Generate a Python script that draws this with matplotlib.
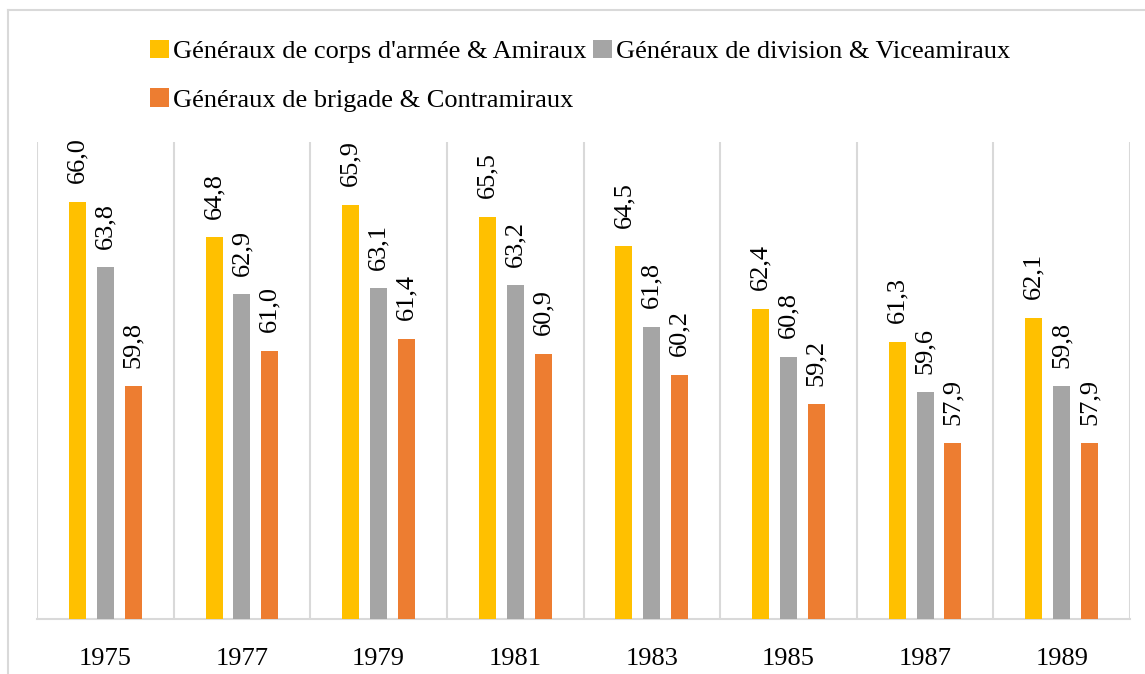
import matplotlib
matplotlib.use("Agg")
import matplotlib.pyplot as plt
from matplotlib.lines import Line2D
import numpy as np

years = ["1975", "1977", "1979", "1981", "1983", "1985", "1987", "1989"]
series_names = ["Généraux de corps d'armée & Amiraux",
                "Généraux de division & Viceamiraux",
                "Généraux de brigade & Contramiraux"]
corps = [66.0, 64.8, 65.9, 65.5, 64.5, 62.4, 61.3, 62.1]
division = [63.8, 62.9, 63.1, 63.2, 61.8, 60.8, 59.6, 59.8]
brigade = [59.8, 61.0, 61.4, 60.9, 60.2, 59.2, 57.9, 57.9]
colors = ["#FFC000", "#A5A5A5", "#ED7D31"]

plt.rcParams['font.family'] = ['Liberation Serif', 'DejaVu Serif']
FS = 19

W, H = 1145, 674
fig = plt.figure(figsize=(W / 100, H / 100), dpi=100)

# outer border (left and top visible)
fig.add_artist(Line2D([8 / W, 8 / W], [0, 1 - 10 / H], color="#d9d9d9", lw=1.5, transform=fig.transFigure))
fig.add_artist(Line2D([8 / W, 1], [1 - 10 / H, 1 - 10 / H], color="#d9d9d9", lw=1.5, transform=fig.transFigure))

ax = fig.add_axes([37 / W, 1 - 619 / H, (1130 - 37) / W, (619 - 142) / H])
x = np.arange(len(years))
step = 0.204
bw = 0.124
data = [corps, division, brigade]
for i, (vals, c, name) in enumerate(zip(data, colors, series_names)):
    xs = x + (i - 1) * step
    ax.bar(xs, vals, width=bw, color=c, label=name, zorder=3)
    for xi, v in zip(xs, vals):
        ax.text(xi, v + 0.62, f"{v:.1f}".replace(".", ","), rotation=90,
                ha="center", va="bottom", fontsize=FS, color="#000000")

ax.set_ylim(52, 68)
ax.set_xlim(-0.5, len(years) - 0.5)
ax.set_yticks([])
ax.set_xticks(x)
ax.set_xticklabels(years, fontsize=FS)
ax.tick_params(axis="x", length=0, pad=21)
for b in np.arange(-0.5, len(years) + 0.5, 1):
    ax.axvline(b, color="#d9d9d9", lw=1.5, zorder=1)
for s in ["top", "left", "right"]:
    ax.spines[s].set_visible(False)
ax.spines["bottom"].set_color("#d9d9d9")
ax.spines["bottom"].set_linewidth(1.5)

handles, labels = ax.get_legend_handles_labels()
order = [0, 2, 1]
fig.legend([handles[i] for i in order], [labels[i] for i in order],
           ncol=2, loc="upper left", bbox_to_anchor=(139 / W, 1 - 29 / H),
           frameon=False, fontsize=FS, handlelength=0.72, handleheight=0.72,
           handletextpad=0.15, columnspacing=0.25, labelspacing=0.95,
           borderaxespad=0)

fig.savefig("out.png", dpi=100)
